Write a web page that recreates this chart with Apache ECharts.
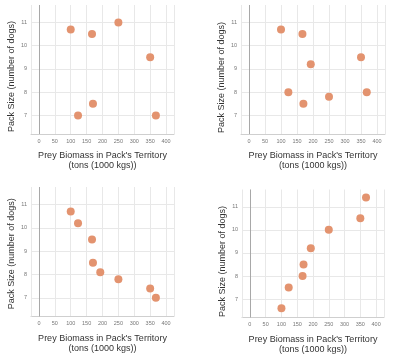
<!DOCTYPE html>
<html>
<head>
<meta charset="utf-8">
<script src="https://cdn.jsdelivr.net/npm/echarts@6/dist/echarts.min.js"></script>
<style>
html,body{margin:0;padding:0;background:#fff;}
#chart{width:400px;height:357px;}
</style>
</head>
<body>
<div id="chart"></div>
<script>
// ---- data ----
const xTicks = [0, 50, 100, 150, 200, 250, 300, 350, 400];
const yTicks = [7, 8, 9, 10, 11];
const X_MIN = -25, X_MAX = 425;
const Y_MIN = 6.2, Y_MAX = 11.75;

const xTitle = "Prey Biomass in Pack's Territory\n(tons (1000 kgs))";
const yTitle = "Pack Size (number of dogs)";

const p1X = [100, 167, 250, 350, 170, 123, 368];
const p1Y = [10.7, 10.5, 11.0, 9.5, 7.5, 7.0, 7.0];

const p2X = [100, 167, 193, 350, 123, 170, 250, 368];
const p2Y = [10.7, 10.5, 9.2, 9.5, 8.0, 7.5, 7.8, 8.0];

const p3X = [100, 123, 167, 170, 193, 250, 350, 368];
const p3Y = [10.7, 10.2, 9.5, 8.5, 8.1, 7.8, 7.4, 7.0];

const p4X = [100, 123, 167, 170, 193, 250, 350, 368];
const p4Y = [6.6, 7.5, 8.0, 8.5, 9.2, 10.0, 10.5, 11.4];

const panels = [[p1X, p1Y], [p2X, p2Y], [p3X, p3Y], [p4X, p4Y]];

// ---- layout ----
const grids = [
  {left: 31, top: 5, width: 143, height: 129},
  {left: 241, top: 5, width: 144, height: 129},
  {left: 31, top: 187, width: 143, height: 129.5},
  {left: 242, top: 189.5, width: 142, height: 128}
];
const yNamePad = [[0, 14, 0, 0], [0, 16, 0, 0], [0, 4, 0, 0], [0, 16, 0, 0]];

const FONT = 'Liberation Sans, Arial, sans-serif';
const GRID_C = '#e8e8e8';

const option = {
  animation: false,
  backgroundColor: '#fff',
  grid: grids.map(g => Object.assign({containLabel: false}, g)),
  xAxis: grids.map((g, i) => ({
    type: 'value', gridIndex: i, min: X_MIN, max: X_MAX,
    name: xTitle, nameLocation: 'middle', nameGap: 17,
    nameTextStyle: {fontFamily: FONT, fontSize: 9, color: '#333', lineHeight: 10},
    axisLine: {show: true, lineStyle: {color: '#cfcfcf', width: 1}},
    axisTick: {show: false, customValues: xTicks},
    axisLabel: {customValues: xTicks, fontFamily: FONT, fontSize: 5.5, color: '#777', margin: 4},
    splitLine: {show: true, lineStyle: {color: GRID_C, width: 1}}
  })),
  yAxis: grids.map((g, i) => ({
    type: 'value', gridIndex: i, min: Y_MIN, max: Y_MAX,
    name: yTitle, nameLocation: 'middle', nameGap: 15, nameRotate: 90,
    nameTextStyle: {fontFamily: FONT, fontSize: 9, color: '#333', padding: yNamePad[i]},
    axisLine: {show: false},
    axisTick: {show: false, customValues: yTicks},
    axisLabel: {customValues: yTicks, fontFamily: FONT, fontSize: 5.5, color: '#777', margin: 4},
    splitLine: {show: true, lineStyle: {color: GRID_C, width: 1}}
  })),
  series: panels.map((p, i) => ({
    type: 'scatter', xAxisIndex: i, yAxisIndex: i,
    symbol: 'circle', symbolSize: 8,
    itemStyle: {color: '#e3936f', opacity: 1},
    data: p[0].map((x, k) => [x, p[1][k]]),
    markLine: {
      silent: true, symbol: 'none', animation: false,
      label: {show: false},
      data: [
        {xAxis: X_MIN, lineStyle: {color: GRID_C, width: 1, type: 'solid'}},
        {xAxis: X_MAX, lineStyle: {color: GRID_C, width: 1, type: 'solid'}},
        {xAxis: 0, lineStyle: {color: '#a8a8a8', width: 1, type: 'solid'}}
      ]
    },
    z: 3
  }))
};

const chart = echarts.init(document.getElementById('chart'), null, {renderer: 'canvas'});
chart.setOption(option);
</script>
</body>
</html>
